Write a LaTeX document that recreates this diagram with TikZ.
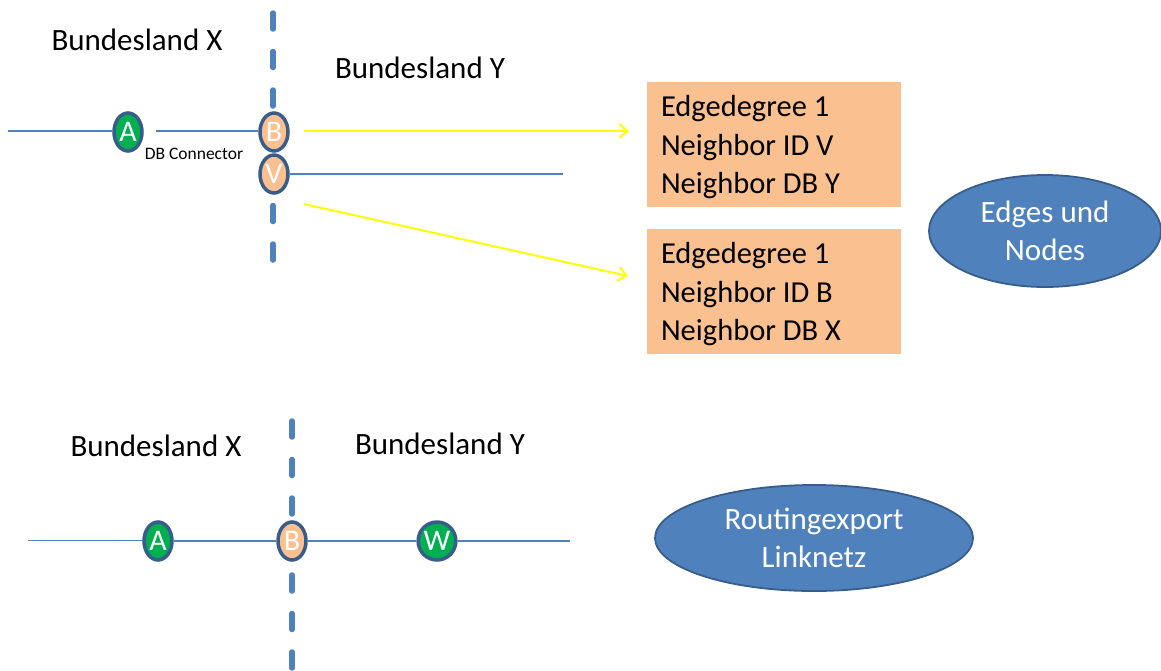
\documentclass[tikz,border=0pt]{standalone}
\usepackage{fontspec}
\setmainfont{Carlito}
\usetikzlibrary{shapes.geometric,arrows.meta,calc}
\definecolor{obl}{RGB}{79,129,189}
\definecolor{odk}{RGB}{56,93,138}
\definecolor{peach}{RGB}{250,192,144}
\definecolor{ogr}{RGB}{0,176,80}
\definecolor{yel}{RGB}{255,255,0}
\tikzset{
  big/.style={font=\fontsize{31}{38.5}\selectfont},
  lbl/.style={big, inner sep=0pt},
  pt/.style={ellipse, draw=odk, line width=3.5pt, minimum width=28pt, minimum height=38pt, inner sep=0pt, text=white, font=\fontsize{30}{30}\selectfont},
  ptg/.style={pt, fill=ogr},
  ptp/.style={pt, fill=peach},
  infobox/.style={font=\fontsize{30.5}{38.5}\selectfont, fill=peach, minimum width=254pt, minimum height=125pt, text width=226pt, inner xsep=14pt, align=left, execute at begin node={\spaceskip=0pt\xspaceskip=0pt\relax}, execute at end node={\par\vspace{-6pt}}},
  oval/.style={ellipse, big, draw=odk, line width=1.8pt, fill=obl, text=white, align=center, inner sep=0pt},
  wire/.style={draw=obl, line width=1.3pt},
  border/.style={draw=obl, line width=5.5pt, line cap=round, dash pattern=on 16pt off 22.5pt},
  yarrow/.style={draw=yel, line width=2pt, -{Straight Barb[length=8pt,width=14pt,line width=2pt]}}
}
\begin{document}
\begin{tikzpicture}[x=1pt,y=-1pt]
\useasboundingbox (0,0) rectangle (1161,670);
% borders
\coordinate (t1) at (273,13);
\coordinate (t2) at (273,265);
\coordinate (b1) at (292,421);
\coordinate (b2) at (292,680);
\draw[border] (t1) -- (t2);
\draw[border] (b1) -- (b2);
% top labels
\node[lbl] (bx1) at (137,40) {Bundesland X};
\node[lbl] (by1) at (420,68) {Bundesland Y};
\node[inner sep=0pt, font=\fontsize{17.5}{18}\selectfont] (dbc) at (194,154) {DB Connector};
% top points
\node[ptg] (A1) at (128,132) {A};
\node[ptp] (B1) at (274,132) {B};
\node[ptp] (V1) at (274,174) {V};
\coordinate (l1) at (8,131);
\coordinate (r1) at (563,174);
\draw[wire] (l1) -- (l1 -| A1.west);
\draw[wire] ($(A1.east)+(12,-1)$) -- ($(B1.west)+(0,-1)$);
\draw[wire] (V1.east) -- (r1);
% boxes
\node[infobox] (box1) at (774,144.5) {Edgedegree 1\\Neighbor ID V\\Neighbor DB Y};
\node[infobox] (box2) at (774,291.5) {Edgedegree 1\\Neighbor ID B\\Neighbor DB X};
\draw[yarrow] ($(B1.east)+(14,-1)$) -- ($(box1.west)+(-18,-13.5)$);
\draw[yarrow] ($(V1.east)+(14,30)$) -- ($(box2.west)+(-19,-15.5)$);
\node[oval, minimum width=232pt, minimum height=112pt] (en) at (1045,231) {Edges und\\Nodes};
% bottom
\node[lbl] (bx2) at (156,446) {Bundesland X};
\node[lbl] (by2) at (440,444) {Bundesland Y};
\node[ptg] (A2) at (158,541) {A};
\node[ptp] (B2) at (292,541) {B};
\node[ptg] (W2) at (437,541) {W};
\coordinate (l2) at (28,540.5);
\coordinate (r2) at (570,541);
\draw[wire] (l2) -- (l2 -| A2.west);
\draw[wire] (A2.east) -- (B2.west);
\draw[wire] (B2.east) -- (W2.west);
\draw[wire] (W2.east) -- (r2);
\node[oval, minimum width=318pt, minimum height=106pt] (rl) at (814,538) {Routingexport\\Linknetz};
\end{tikzpicture}
\end{document}
